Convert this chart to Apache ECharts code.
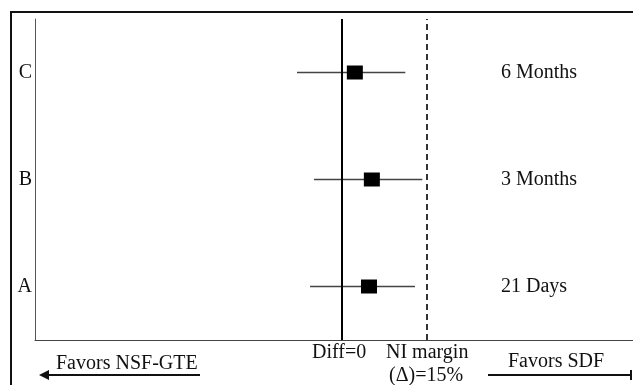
<!DOCTYPE html>
<html>
<head>
<meta charset="utf-8">
<script src="https://cdn.jsdelivr.net/npm/echarts@6/dist/echarts.min.js"></script>
<style>html,body{margin:0;padding:0;background:#fff;}#c{width:633px;height:385px;}</style>
</head>
<body>
<div id="c"></div>
<script>
// Data
const groups = ['A', 'B', 'C'];
const timepoints = ['21 Days', '3 Months', '6 Months'];
const pointEst = [4.8, 5.3, 2.3];
const ciLow = [-5.6, -4.9, -7.9];
const ciHigh = [12.9, 14.2, 11.2];
const niMargin = 15;
const xMin = -54.1, xMax = 51.35;

const FONT = '"Liberation Serif", "Times New Roman", serif';
const chart = echarts.init(document.getElementById('c'));

const ciData = groups.map((g, i) => [ciLow[i], ciHigh[i], i]);
const ptData = groups.map((g, i) => [pointEst[i], i]);

chart.setOption({
  animation: false,
  backgroundColor: '#fff',
  grid: { left: 35, right: 0, top: 19, bottom: 45 },
  xAxis: {
    type: 'value', min: xMin, max: xMax,
    axisLine: { show: true, onZero: false, lineStyle: { color: '#444', width: 1 } },
    axisTick: { show: false }, axisLabel: { show: false }, splitLine: { show: false }
  },
  yAxis: [{
    type: 'category', data: groups,
    axisLine: { show: true, onZero: false, lineStyle: { color: '#555', width: 1 } },
    axisTick: { show: false }, splitLine: { show: false },
    axisLabel: { fontFamily: FONT, fontSize: 20, color: '#111', margin: 3 }
  }, {
    type: 'category', data: timepoints, position: 'right',
    axisLine: { show: false }, axisTick: { show: false }, splitLine: { show: false },
    axisLabel: { inside: true, align: 'left', margin: 132, fontFamily: FONT, fontSize: 20, color: '#111' }
  }],
  series: [{
    type: 'custom',
    data: ciData,
    renderItem: function (params, api) {
      const a = api.coord([api.value(0), api.value(2)]);
      const b = api.coord([api.value(1), api.value(2)]);
      return { type: 'line', shape: { x1: a[0], y1: a[1], x2: b[0], y2: b[1] },
        style: { stroke: '#444', lineWidth: 1.5 } };
    },
    markLine: {
      silent: true, symbol: 'none', label: { show: false },
      data: [
        { xAxis: 0, lineStyle: { color: '#000', width: 2, type: 'solid' } },
        { xAxis: niMargin, lineStyle: { color: '#333', width: 2, type: [6, 4] } }
      ]
    },
    z: 2
  }, {
    type: 'scatter',
    data: ptData,
    symbol: 'rect', symbolSize: [16, 14],
    itemStyle: { color: '#000', opacity: 1 },
    z: 3
  }],
  graphic: [
    { type: 'rect', shape: { x: 11, y: 12, width: 700, height: 500 }, style: { fill: 'none', stroke: '#111', lineWidth: 2 }, silent: true },
    { type: 'text', left: 312, top: 343, style: { text: 'Diff=0', font: '20px ' + FONT, fill: '#111' } },
    { type: 'text', left: 386, top: 343, style: { text: 'NI margin', font: '20px ' + FONT, fill: '#111' } },
    { type: 'text', left: 389, top: 366, style: { text: '(Δ)=15%', font: '20px ' + FONT, fill: '#111' } },
    { type: 'text', left: 56, top: 354, style: { text: 'Favors NSF-GTE', font: '20px ' + FONT, fill: '#111' } },
    { type: 'text', left: 508, top: 352, style: { text: 'Favors SDF', font: '20px ' + FONT, fill: '#111' } },
    { type: 'line', shape: { x1: 46, y1: 375, x2: 200, y2: 375 }, style: { stroke: '#111', lineWidth: 2 } },
    { type: 'polygon', shape: { points: [[39, 375], [49, 370], [49, 380]] }, style: { fill: '#111' } },
    { type: 'line', shape: { x1: 488, y1: 375, x2: 630, y2: 375 }, style: { stroke: '#111', lineWidth: 2 } },
    { type: 'line', shape: { x1: 631, y1: 370, x2: 631, y2: 380 }, style: { stroke: '#111', lineWidth: 2 } }
  ]
});
</script>
</body>
</html>
